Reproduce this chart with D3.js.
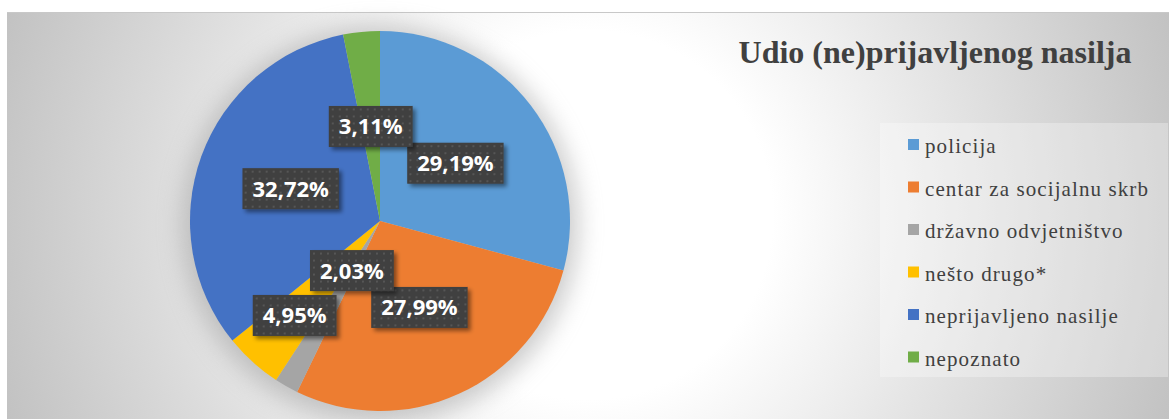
<!DOCTYPE html>
<html>
<head>
  <meta charset='utf-8'>
  <title>Udio (ne)prijavljenog nasilja</title>
  <script src="https://cdnjs.cloudflare.com/ajax/libs/d3/7.8.5/d3.min.js"></script>
  <style>
    body { margin: 0; background: #fff; }
  </style>
</head>
<body>
  <svg width="1169" height="419" id="chart"></svg>
  <script>
    // data
    const categories = ['policija', 'centar za socijalnu skrb', 'državno odvjetništvo', 'nešto drugo*', 'neprijavljeno nasilje', 'nepoznato'];
    const values = [29.19, 27.99, 2.03, 4.95, 32.72, 3.11];
    const colors = ['#5B9BD5', '#ED7D31', '#A5A5A5', '#FFC000', '#4472C4', '#70AD47'];
    const title = 'Udio (ne)prijavljenog nasilja';

    // where excel pushed the small labels (fraction of radius)
    const labelPos = [0.5, 0.5, 0.3, 0.67, 0.5, 0.5];

    const W = 1169, H = 419;
    const serif = '"Liberation Serif", Tinos, "Times New Roman", serif';
    const svg = d3.select('#chart');
    const defs = svg.append('defs');

    const bg = defs.append('radialGradient').attr('id', 'bg')
      .attr('gradientUnits', 'userSpaceOnUse')
      .attr('cx', 588).attr('cy', 215).attr('r', 615);
    bg.append('stop').attr('offset', 0).attr('stop-color', '#ffffff');
    bg.append('stop').attr('offset', 0.3).attr('stop-color', '#ffffff');
    bg.append('stop').attr('offset', 1).attr('stop-color', '#c2c2c2');

    const blur = defs.append('filter').attr('id', 'pieShadow')
      .attr('x', '-30%').attr('y', '-30%').attr('width', '160%').attr('height', '160%');
    blur.append('feGaussianBlur').attr('stdDeviation', 12);

    const ds = defs.append('filter').attr('id', 'boxShadow')
      .attr('x', '-20%').attr('y', '-30%').attr('width', '150%').attr('height', '170%');
    ds.append('feDropShadow').attr('dx', 3).attr('dy', 3).attr('stdDeviation', 2)
      .attr('flood-color', '#000').attr('flood-opacity', 0.45);

    const dots = defs.append('pattern').attr('id', 'dots')
      .attr('patternUnits', 'userSpaceOnUse').attr('width', 7).attr('height', 7);
    dots.append('rect').attr('width', 7).attr('height', 7).attr('fill', '#3f3f3f');
    dots.append('rect').attr('x', 3).attr('y', 3).attr('width', 2).attr('height', 2).attr('fill', '#575757');

    // chart area
    svg.append('rect').attr('x', 7).attr('y', 12).attr('width', W - 7).attr('height', H - 12)
      .attr('fill', 'url(#bg)');
    svg.append('line').attr('x1', 7).attr('x2', W).attr('y1', 12.5).attr('y2', 12.5)
      .attr('stroke', '#c8c8c8');

    // pie
    const cx = 380, cy = 221, r = 190;
    const g = svg.append('g').attr('transform', `translate(${cx},${cy})`);

    g.append('circle').attr('r', r + 8).attr('cy', 4)
      .attr('fill', '#999999').attr('opacity', 0.5).attr('filter', 'url(#pieShadow)');

    const pie = d3.pie().sort(null).value(d => d);
    const arcs = pie(values);
    const arc = d3.arc().innerRadius(0).outerRadius(r);

    g.selectAll('path.slice').data(arcs).join('path')
      .attr('class', 'slice')
      .attr('d', arc)
      .attr('fill', (d, i) => colors[i]);

    const fmt = d3.formatLocale({ decimal: ',', thousands: '.', grouping: [3], currency: ['', ''] }).format('.2f');

    const lab = g.selectAll('g.lab').data(arcs).join('g')
      .attr('class', 'lab')
      .attr('transform', (d, i) => {
        const a = (d.startAngle + d.endAngle) / 2;
        const k = labelPos[i] * r;
        return `translate(${k * Math.sin(a)},${-k * Math.cos(a)})`;
      });

    const rects = lab.append('rect').attr('fill', 'url(#dots)').attr('filter', 'url(#boxShadow)');
    const texts = lab.append('text')
      .attr('text-anchor', 'middle')
      .attr('dy', '0.36em')
      .attr('fill', '#ffffff')
      .style('font-family', '"Open Sans", sans-serif')
      .style('font-weight', 700)
      .style('font-size', '22px')
      .text(d => fmt(d.data) + '%');

    texts.each(function (d, i) {
      const w = this.getComputedTextLength() + 20;
      d3.select(rects.nodes()[i])
        .attr('x', -w / 2).attr('y', -20.5).attr('width', w).attr('height', 41);
    });

    // title
    svg.append('text')
      .attr('x', 935).attr('y', 63)
      .attr('text-anchor', 'middle')
      .attr('fill', '#404040')
      .style('font-family', serif)
      .style('font-weight', 700)
      .style('font-size', '32px')
      .text(title);

    // legend
    svg.append('rect').attr('x', 880).attr('y', 123).attr('width', 288).attr('height', 254)
      .attr('fill', '#ffffff').attr('opacity', 0.3);

    const ly = d3.scalePoint().domain(categories).range([144.5, 357]);
    const leg = svg.selectAll('g.leg').data(categories).join('g')
      .attr('class', 'leg')
      .attr('transform', d => `translate(908,${ly(d)})`);
    leg.append('rect').attr('x', 0).attr('y', -5.5).attr('width', 11).attr('height', 11)
      .attr('fill', (d, i) => colors[i]);
    leg.append('text').attr('x', 17).attr('y', 8.5)
      .attr('fill', '#404040')
      .style('font-family', serif)
      .style('font-size', '21px')
      .style('letter-spacing', '1.1px')
      .text(d => d);
  </script>
</body>
</html>
